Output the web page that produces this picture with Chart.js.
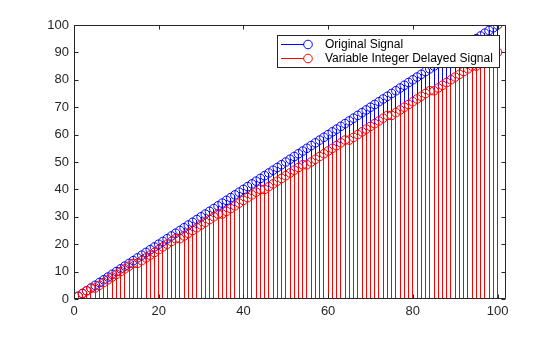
<!DOCTYPE html>
<html>
<head>
<meta charset="utf-8">
<script src="https://cdn.jsdelivr.net/npm/chart.js@4/dist/chart.umd.min.js"></script>
<style>
  html, body { margin: 0; padding: 0; background: #ffffff; }
  #wrap { width: 560px; height: 337px; }
</style>
</head>
<body>
<div id="wrap"><canvas id="c" width="560" height="337"></canvas></div>
<script>
// Sample index n = 1..100
const sampleIndex = [
  1,2,3,4,5,6,7,8,9,10,11,12,13,14,15,16,17,18,19,20,
  21,22,23,24,25,26,27,28,29,30,31,32,33,34,35,36,37,38,39,40,
  41,42,43,44,45,46,47,48,49,50,51,52,53,54,55,56,57,58,59,60,
  61,62,63,64,65,66,67,68,69,70,71,72,73,74,75,76,77,78,79,80,
  81,82,83,84,85,86,87,88,89,90,91,92,93,94,95,96,97,98,99,100
];
// Input ramp
const originalSignal = [
  1,2,3,4,5,6,7,8,9,10,11,12,13,14,15,16,17,18,19,20,
  21,22,23,24,25,26,27,28,29,30,31,32,33,34,35,36,37,38,39,40,
  41,42,43,44,45,46,47,48,49,50,51,52,53,54,55,56,57,58,59,60,
  61,62,63,64,65,66,67,68,69,70,71,72,73,74,75,76,77,78,79,80,
  81,82,83,84,85,86,87,88,89,90,91,92,93,94,95,96,97,98,99,100
];
// Ramp after the variable integer delay (delay grows by one sample every ten)
const delayedSignal = [
  1,2,3,4,
  4,5,6,7,8,9,10,11,12,13,
  13,14,15,16,17,18,19,20,21,22,
  22,23,24,25,26,27,28,29,30,31,
  31,32,33,34,35,36,37,38,39,40,
  40,41,42,43,44,45,46,47,48,49,
  49,50,51,52,53,54,55,56,57,58,
  58,59,60,61,62,63,64,65,66,67,
  67,68,69,70,71,72,73,74,75,76,
  76,77,78,79,80,81,82,83,84,85,
  85,86,87,88,89,90
];
const xTickValues = [0, 20, 40, 60, 80, 100];
const yTickValues = [0, 10, 20, 30, 40, 50, 60, 70, 80, 90, 100];
const seriesNames = ['Original Signal', 'Variable Integer Delayed Signal'];

const BLUE = 'rgb(0,0,255)';
const RED = 'rgb(255,0,0)';
const AXIS = '#262626';

Chart.defaults.font.family = "'Liberation Sans', Arial, Helvetica, sans-serif";
Chart.defaults.font.size = 13;
Chart.defaults.color = AXIS;

const toPoints = (ys) => sampleIndex.map((x, i) => ({ x: x, y: ys[i] }));

// Stems: draw each bar element as a pixel-aligned 1px line
const crispStemsPlugin = {
  id: 'crispStems',
  beforeDatasetDraw(chart, args) {
    const meta = args.meta;
    if (meta.type !== 'bar') return;
    const ctx = chart.ctx;
    const a = chart.chartArea;
    ctx.save();
    ctx.beginPath();
    ctx.rect(a.left, a.top, a.right - a.left, a.bottom - a.top);
    ctx.clip();
    ctx.fillStyle = meta.controller.getDataset().backgroundColor;
    meta.data.forEach(el => {
      const { x, y, base } = el.getProps(['x', 'y', 'base'], true);
      const px = Math.round(x - 0.5);
      const top = Math.round(Math.min(y, base));
      const bottom = Math.round(Math.max(y, base));
      ctx.fillRect(px, top, 1, bottom - top);
    });
    ctx.restore();
    return false;
  }
};

// Box around the axes with inward tick marks on all four sides
const framePlugin = {
  id: 'frame',
  afterDatasetsDraw(chart) {
    const { ctx, chartArea: a, scales } = chart;
    const L = Math.round(a.left) + 0.5, R = Math.round(a.right) - 0.5;
    const T = Math.round(a.top) + 0.5, B = Math.round(a.bottom) - 0.5;
    ctx.save();
    ctx.strokeStyle = AXIS;
    ctx.lineWidth = 1;
    ctx.beginPath();
    ctx.rect(L, T, R - L, B - T);
    const len = 4;
    xTickValues.forEach(v => {
      const px = Math.round(scales.x.getPixelForValue(v)) + 0.5;
      ctx.moveTo(px, B); ctx.lineTo(px, B - len);
      ctx.moveTo(px, T); ctx.lineTo(px, T + len);
    });
    yTickValues.forEach(v => {
      const py = Math.round(scales.y.getPixelForValue(v)) + 0.5;
      ctx.moveTo(L, py); ctx.lineTo(L + len, py);
      ctx.moveTo(R, py); ctx.lineTo(R - len, py);
    });
    ctx.stroke();
    ctx.restore();
  }
};

// Boxed legend inside the axes: line + open circle, then the series name
const legendBoxPlugin = {
  id: 'legendBox',
  afterDraw(chart) {
    const { ctx } = chart;
    const box = { x: 277.5, y: 35.5, w: 222, h: 32 };
    const rows = [
      { name: seriesNames[0], color: BLUE, y: 44.5 },
      { name: seriesNames[1], color: RED, y: 58.5 }
    ];
    ctx.save();
    ctx.fillStyle = '#ffffff';
    ctx.fillRect(box.x, box.y, box.w, box.h);
    ctx.strokeStyle = AXIS;
    ctx.lineWidth = 1;
    ctx.strokeRect(box.x, box.y, box.w, box.h);
    rows.forEach(r => {
      ctx.strokeStyle = r.color;
      ctx.beginPath();
      ctx.moveTo(281, r.y);
      ctx.lineTo(304, r.y);
      ctx.stroke();
      ctx.beginPath();
      ctx.arc(308, r.y, 4.3, 0, Math.PI * 2);
      ctx.stroke();
      ctx.fillStyle = '#000000';
      ctx.font = "12px 'Liberation Sans', Arial, sans-serif";
      ctx.textBaseline = 'middle';
      ctx.textAlign = 'left';
      ctx.fillText(r.name, 325, r.y + 0.5);
    });
    ctx.restore();
  }
};

const markerStyle = (color, order, label) => ({
  type: 'scatter',
  label: label,
  showLine: false,
  pointRadius: 4.3,
  pointHoverRadius: 4.3,
  pointBorderWidth: 1,
  pointBorderColor: color,
  pointBackgroundColor: 'rgba(0,0,0,0)',
  order: order
});

const stemStyle = (color, order, label) => ({
  type: 'bar',
  label: label,
  backgroundColor: color,
  borderWidth: 0,
  barThickness: 1,
  grouped: false,
  order: order
});

new Chart(document.getElementById('c'), {
  type: 'bar',
  data: {
    datasets: [
      Object.assign(markerStyle(RED, 0, seriesNames[1]), { data: toPoints(delayedSignal) }),
      Object.assign(stemStyle(RED, 1, seriesNames[1] + ' stems'), { data: toPoints(delayedSignal) }),
      Object.assign(markerStyle(BLUE, 2, seriesNames[0]), { data: toPoints(originalSignal) }),
      Object.assign(stemStyle(BLUE, 3, seriesNames[0] + ' stems'), { data: toPoints(originalSignal) })
    ]
  },
  options: {
    responsive: false,
    animation: false,
    events: [],
    layout: { padding: { left: 0, right: 54, top: 25, bottom: 0 } },
    scales: {
      x: {
        type: 'linear', min: 0, max: 102, offset: false,
        grid: { display: false, drawTicks: false },
        border: { display: false },
        afterBuildTicks: s => { s.ticks = xTickValues.map(v => ({ value: v })); },
        ticks: { padding: 5, maxRotation: 0, autoSkip: false, color: AXIS },
        afterFit: s => { s.height = 38; }
      },
      y: {
        type: 'linear', min: 0, max: 100,
        grid: { display: false, drawTicks: false },
        border: { display: false },
        afterBuildTicks: s => { s.ticks = yTickValues.map(v => ({ value: v })); },
        ticks: { padding: 5, autoSkip: false, color: AXIS },
        afterFit: s => { s.width = 74; }
      }
    },
    plugins: { legend: { display: false }, tooltip: { enabled: false } }
  },
  plugins: [crispStemsPlugin, framePlugin, legendBoxPlugin]
});
</script>
</body>
</html>
